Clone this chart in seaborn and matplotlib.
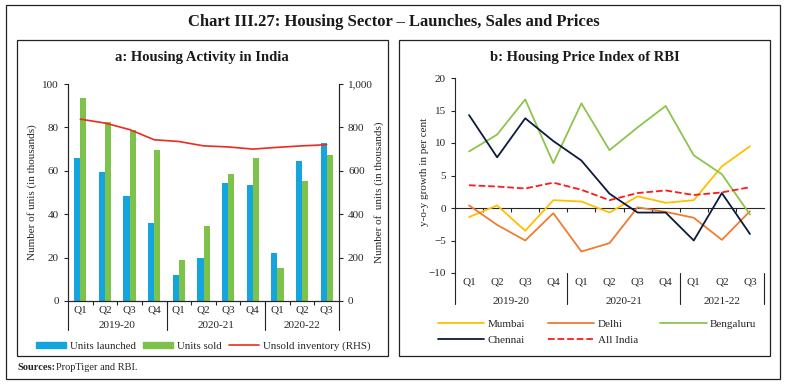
import matplotlib.pyplot as plt
import matplotlib.ticker as mticker
from matplotlib.patches import Rectangle, Patch
from matplotlib.lines import Line2D
import numpy as np
import pandas as pd
import seaborn as sns

# data
quarters = ['Q1', 'Q2', 'Q3', 'Q4', 'Q1', 'Q2', 'Q3', 'Q4', 'Q1', 'Q2', 'Q3']
years_a = ['2019-20', '2020-21', '2020-22']
years_b = ['2019-20', '2020-21', '2021-22']
year_groups = [4, 4, 3]

units_launched = [66.0, 59.5, 48.6, 35.8, 11.8, 19.7, 54.5, 53.4, 22.0, 64.5, 73.0]
units_sold = [93.5, 82.3, 78.6, 69.4, 18.9, 34.6, 58.6, 65.8, 15.1, 55.1, 67.2]
unsold_inventory = [838, 820, 790, 743, 735, 715, 710, 700, 708, 715, 720]

mumbai = [-1.4, 0.4, -3.5, 1.2, 1.0, -0.7, 1.8, 0.8, 1.2, 6.4, 9.5]
delhi = [0.4, -2.6, -5.0, -0.8, -6.7, -5.4, 0.1, -0.6, -1.5, -4.9, -0.5]
bengaluru = [8.7, 11.3, 16.7, 6.9, 16.1, 8.9, 12.4, 15.7, 8.1, 5.2, -1.0]
chennai = [14.3, 7.8, 13.8, 10.3, 7.3, 2.2, -0.7, -0.7, -5.0, 2.3, -4.0]
all_india = [3.5, 3.3, 3.0, 3.9, 2.8, 1.2, 2.3, 2.7, 2.0, 2.4, 3.2]

c_blue = '#14A5DF'
c_green = '#7DC24B'
c_red = '#EE2A1E'

sns.set_style("ticks")
plt.rcParams['font.family'] = ['Liberation Serif', 'DejaVu Serif']
plt.rcParams['axes.linewidth'] = 0.8
plt.rcParams['xtick.major.width'] = 0.8
plt.rcParams['ytick.major.width'] = 0.8
plt.rcParams['xtick.minor.width'] = 0.8

W, H = 787, 386
fig = plt.figure(figsize=(W / 100, H / 100), dpi=100)


def fx(px):
    return px / W


def fy(px):
    return 1 - px / H


# frames
fig.patches.append(Rectangle((fx(6), fy(379)), fx(774), 374 / H, transform=fig.transFigure,
                             fill=False, lw=0.9, ec='#222222'))
fig.patches.append(Rectangle((fx(17), fy(356)), fx(371), 316 / H, transform=fig.transFigure,
                             fill=False, lw=0.9, ec='#222222'))
fig.patches.append(Rectangle((fx(399), fy(356)), fx(371), 316 / H, transform=fig.transFigure,
                             fill=False, lw=0.9, ec='#222222'))

fig.text(0.5, fy(22), 'Chart III.27: Housing Sector \u2013 Launches, Sales and Prices',
         ha='center', va='center', fontsize=12, fontweight='bold', color='#1a1a1a')
fig.text(fx(202), fy(57), 'a: Housing Activity in India', ha='center', va='center',
         fontsize=10.5, fontweight='bold', color='#1a1a1a')
fig.text(fx(585), fy(57), 'b: Housing Price Index of RBI', ha='center', va='center',
         fontsize=10.5, fontweight='bold', color='#1a1a1a')
fig.text(fx(17), fy(368), 'Sources:', ha='left', va='center', fontsize=7.5, fontweight='bold')
fig.text(fx(56), fy(368), 'PropTiger and RBI.', ha='left', va='center', fontsize=7.5)

pos = np.arange(len(quarters))
bounds = np.cumsum([0] + year_groups) - 0.5


def group_labels(ax, labels, ysep, ytxt):
    tr = ax.get_xaxis_transform()
    for b in bounds:
        ax.plot([b, b], [0, ysep], transform=tr, color='#222222', lw=0.8, clip_on=False)
    for i, lab in enumerate(labels):
        mid = (bounds[i] + bounds[i + 1]) / 2
        ax.text(mid, ytxt, lab, transform=tr, ha='center', va='center', fontsize=8)


# ---- panel a
ax = fig.add_axes([fx(68), fy(301), fx(271), 217 / H])
df_a = pd.DataFrame({
    'pos': np.concatenate([pos, pos]),
    'value': units_launched + units_sold,
    'series': ['Units launched'] * len(pos) + ['Units sold'] * len(pos),
})
sns.barplot(data=df_a, x='pos', y='value', hue='series', palette=[c_blue, c_green],
            width=0.5, dodge=True, ax=ax, legend=False, saturation=1,
            linewidth=0, edgecolor='none')
ax.set_xlim(-0.5, 10.5)
ax.set_ylim(0, 100)
ax.set_yticks(range(0, 101, 20))
ax.set_xticks(pos)
ax.set_xticklabels(quarters)
ax.set_xticks(np.arange(0.5, 10, 1), minor=True)
ax.tick_params(axis='x', which='major', length=0, labelsize=8, pad=3)
ax.tick_params(axis='x', which='minor', length=3, direction='out')
ax.tick_params(axis='y', labelsize=8, length=3, direction='out')
ax.set_xlabel('')
ax.set_ylabel('Number of unis (in thousands)', fontsize=8)
ax.yaxis.set_label_coords(-0.115, 0.5)
ax.spines['top'].set_visible(False)
group_labels(ax, years_a, -29 / 217, -25 / 217)

ax2 = ax.twinx()
sns.lineplot(x=pos, y=unsold_inventory, ax=ax2, color=c_red, lw=1.2)
ax2.set_ylim(0, 1000)
ax2.set_yticks(range(0, 1001, 200))
ax2.yaxis.set_major_formatter(mticker.FuncFormatter(lambda v, p: f'{v:,.0f}'))
ax2.tick_params(axis='y', labelsize=8, length=3, direction='out')
ax2.set_ylabel('Number of  units (in thousands)', fontsize=8)
ax2.yaxis.set_label_coords(1.13, 0.5)
ax2.spines['top'].set_visible(False)

handles_a = [Patch(color=c_blue, label='Units launched'),
             Patch(color=c_green, label='Units sold'),
             Line2D([], [], color=c_red, lw=1.2, label='Unsold inventory (RHS)')]
fig.legend(handles=handles_a, loc='center', bbox_to_anchor=(fx(203), fy(346)), ncol=3,
           frameon=False, fontsize=7.8, handlelength=2.8, handleheight=0.5,
           columnspacing=0.7, handletextpad=0.3)

# ---- panel b
bx = fig.add_axes([fx(455), fy(273), fx(309), 195 / H])
cities = [('Mumbai', mumbai, '#FFC000', '-'),
          ('Delhi', delhi, '#ED7D31', '-'),
          ('Bengaluru', bengaluru, '#8DC44E', '-'),
          ('Chennai', chennai, '#0C1B3D', '-'),
          ('All India', all_india, '#FF1A1A', '--')]
for name, vals, col, ls in cities:
    sns.lineplot(x=pos, y=vals, ax=bx, color=col, lw=1.3, linestyle=ls, label=name)
bx.set_xlim(-0.5, 10.5)
bx.set_ylim(-10, 20)
bx.set_yticks(range(-10, 21, 5))
bx.set_xticks(pos)
bx.set_xticklabels(quarters)
bx.tick_params(axis='x', which='major', length=0, labelsize=8, pad=3)
bx.tick_params(axis='y', labelsize=8, length=3, direction='out')
bx.set_ylabel('y-o-y growth in per cent', fontsize=8)
bx.yaxis.set_label_coords(-0.085, 0.52)
for s in ['top', 'right', 'bottom']:
    bx.spines[s].set_visible(False)
zero = bx.secondary_xaxis(1 / 3)
zero.set_xticks(np.arange(0.5, 10, 1))
zero.set_xticklabels([])
zero.tick_params(axis='x', length=3, direction='out')
group_labels(bx, years_b, -31 / 195, -28 / 195)

h, l = bx.get_legend_handles_labels()
order = [0, 3, 1, 4, 2]
bx.legend([h[i] for i in order], [l[i] for i in order], loc='center',
          bbox_to_anchor=(fx(597), fy(332)), bbox_transform=fig.transFigure, ncol=3,
          frameon=False, fontsize=8, handlelength=4.2, columnspacing=2.0,
          handletextpad=0.3, labelspacing=0.5)

fig.savefig('out.png', dpi=100)
